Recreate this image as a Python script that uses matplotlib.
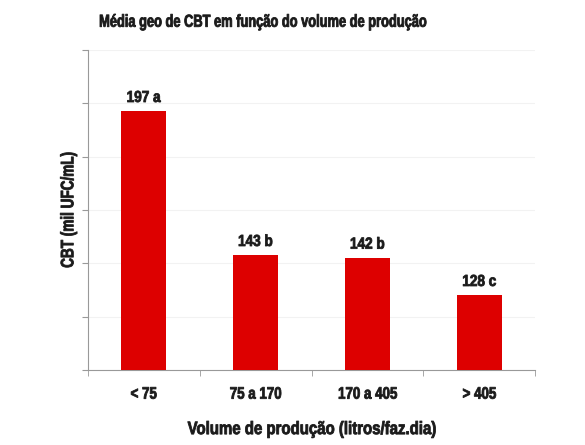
import matplotlib.pyplot as plt
import matplotlib.patheffects as pe
from matplotlib.transforms import Affine2D
import numpy as np

plt.rcParams['font.family'] = ['Liberation Sans', 'DejaVu Sans']

categorias = ['< 75', '75 a 170', '170 a 405', '> 405']
cbt = [197, 143, 142, 128]
letras = ['a', 'b', 'b', 'c']


# no condensed font installed, so squeeze the glyphs sideways (and thicken a bit)
class Squeeze(pe.AbstractPathEffect):
    def __init__(self, sx=0.8, lw=0.6):
        super().__init__()
        self.sx = sx
        self.lw = lw

    def draw_path(self, renderer, gc, tpath, affine, rgbFace=None):
        ext = tpath.get_extents()
        cx = (ext.x0 + ext.x1) / 2
        t = Affine2D().translate(-cx, 0).scale(self.sx, 1).translate(cx, 0) + affine
        gc0 = renderer.new_gc()
        gc0.copy_properties(gc)
        gc0.set_linewidth(self.lw)
        gc0.set_foreground(rgbFace)
        renderer.draw_path(gc0, tpath, t, rgbFace)
        gc0.restore()


fig = plt.figure(figsize=(5.85, 4.45), dpi=100)
ax = fig.add_axes([0.150, 0.1685, 0.765, 0.719])

x = np.arange(len(categorias))
ax.bar(x, cbt, width=0.4, color='#dd0000', zorder=3)

for xi, v, l in zip(x, cbt, letras):
    ax.text(xi, v + 2.4, '%d %s' % (v, l), ha='center', va='bottom',
            fontsize=11.5, fontweight='bold', color='#1a1a1a',
            path_effects=[Squeeze(0.85)])

ax.set_xlim(-0.5, 3.5)
ax.set_ylim(100, 220)
ax.set_yticks(np.arange(100, 221, 20))
ax.set_yticklabels([])
ax.set_xticks(x)
ax.set_xticklabels(categorias, fontsize=12, fontweight='bold', color='#1a1a1a')
for t in ax.get_xticklabels():
    t.set_path_effects([Squeeze(0.8)])
ax.set_xticks(np.arange(-0.5, 3.6, 1), minor=True)
ax.tick_params(axis='x', which='major', length=0, pad=12)
ax.tick_params(axis='x', which='minor', length=4, color='#999999')
ax.tick_params(axis='y', length=4, color='#999999')
ax.grid(axis='y', color='#f2f2f2', linewidth=0.8, zorder=0)

for s in ['top', 'right']:
    ax.spines[s].set_visible(False)
for s in ['left', 'bottom']:
    ax.spines[s].set_color('#999999')

ax.set_ylabel('CBT (mil UFC/mL)', fontsize=13, fontweight='bold', color='#1a1a1a',
              labelpad=0, path_effects=[Squeeze(0.75)])
ax.set_xlabel('Volume de produção (litros/faz.dia)', fontsize=13, fontweight='bold',
              color='#1a1a1a', labelpad=14, path_effects=[Squeeze(0.83)])
fig.text(0.45, 0.95, 'Média geo de CBT em função do volume de produção', ha='center',
         va='center', fontsize=12.5, fontweight='bold', color='#1a1a1a',
         path_effects=[Squeeze(0.74)])

fig.savefig('out.png')
